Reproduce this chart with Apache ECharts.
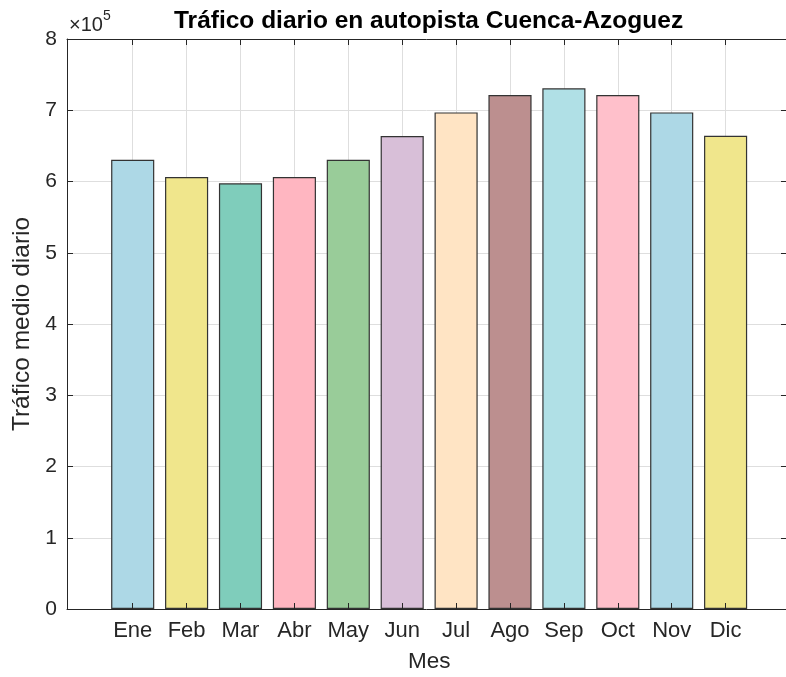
<!DOCTYPE html>
<html>
<head>
<meta charset="utf-8">
<script src="https://cdn.jsdelivr.net/npm/echarts@6/dist/echarts.min.js"></script>
<style>
  html, body { margin: 0; padding: 0; background: #ffffff; }
  #chart { width: 786px; height: 677px; }
</style>
</head>
<body>
<div id="chart"></div>
<script>
// Monthly categories and average daily traffic
const meses = ['Ene', 'Feb', 'Mar', 'Abr', 'May', 'Jun', 'Jul', 'Ago', 'Sep', 'Oct', 'Nov', 'Dic'];
const traficoMedio = [630600, 606300, 597500, 606300, 630600, 663900, 697000, 721400, 730800, 721400, 697000, 664300];
const coloresBarras = ['#ADD8E6', '#F0E68C', '#7FCDBB', '#FFB6C1', '#99CC99', '#D8BFD8',
                       '#FFE4C4', '#BC8F8F', '#B0E0E6', '#FFC0CB', '#ADD8E6', '#F0E68C'];
const yTicks = [0, 1, 2, 3, 4, 5, 6, 7, 8];

const AXIS = '#262626';
const GRIDLINE = '#dedede';
const FONT = 'Liberation Sans, Arial, Helvetica, sans-serif';
const yMax = yTicks[yTicks.length - 1] * 1e5;

const chart = echarts.init(document.getElementById('chart'), null, { renderer: 'canvas' });

const frameLine = { show: true, onZero: false, lineStyle: { color: AXIS, width: 1 } };
const noLine = { show: false, onZero: false };

const option = {
  backgroundColor: '#ffffff',
  animation: false,
  title: [
    {
      text: 'Tráfico diario en autopista Cuenca-Azoguez',
      left: 174,
      top: 9,
      padding: 0,
      textStyle: { fontFamily: FONT, fontWeight: 'bold', fontSize: 24.5, color: '#000' }
    },
    {
      text: '{a|×10}{s|5}',
      left: 69,
      top: 9,
      padding: 0,
      textStyle: {
        fontFamily: FONT, fontWeight: 'normal', fontSize: 20, color: AXIS,
        rich: {
          a: { fontFamily: FONT, fontWeight: 'normal', fontSize: 20, color: AXIS, lineHeight: 26, verticalAlign: 'bottom' },
          s: { fontFamily: FONT, fontWeight: 'normal', fontSize: 14, color: AXIS, lineHeight: 14, verticalAlign: 'top' }
        }
      }
    }
  ],
  grid: [
    // Axes box, reaching the right edge of the canvas
    { left: 67, top: 39, width: 719, height: 570, outerBoundsMode: 'none', containLabel: false },
    // Bar area, one band per month
    { left: 105.75, top: 39, width: 646.8, height: 570, outerBoundsMode: 'none', containLabel: false }
  ],
  xAxis: [
    {
      gridIndex: 0, type: 'value', min: 0, max: 1, position: 'bottom', z: 5,
      axisLine: frameLine, axisTick: { show: false }, axisLabel: { show: false }, splitLine: { show: false }
    },
    {
      gridIndex: 0, type: 'value', min: 0, max: 1, position: 'top', z: 5,
      axisLine: frameLine, axisTick: { show: false }, axisLabel: { show: false }, splitLine: { show: false }
    },
    {
      // month labels and inward ticks, drawn over the bars
      gridIndex: 1, type: 'category', data: meses, position: 'bottom', z: 5,
      axisLine: noLine,
      axisTick: { show: true, inside: true, length: 6, alignWithLabel: true, interval: 0, lineStyle: { color: AXIS } },
      axisLabel: { fontFamily: FONT, fontSize: 22, color: AXIS, margin: 11, interval: 0 },
      splitLine: { show: false },
      name: 'Mes', nameLocation: 'middle', nameGap: 41,
      nameTextStyle: { fontFamily: FONT, fontSize: 22.5, color: AXIS }
    },
    {
      gridIndex: 1, type: 'category', data: meses, position: 'top', z: 5,
      axisLine: noLine,
      axisTick: { show: true, inside: true, length: 6, alignWithLabel: true, interval: 0, lineStyle: { color: AXIS } },
      axisLabel: { show: false },
      splitLine: { show: false }
    },
    {
      // vertical grid lines at each month, behind the bars
      gridIndex: 1, type: 'category', data: meses, position: 'bottom', z: 0,
      axisLine: noLine, axisTick: { show: false }, axisLabel: { show: false },
      splitLine: { show: true, alignWithLabel: true, interval: 0, lineStyle: { color: GRIDLINE, width: 1 } }
    }
  ],
  yAxis: [
    {
      gridIndex: 0, type: 'value', min: 0, max: yMax, interval: 1e5, position: 'left', z: 0,
      axisLine: frameLine,
      axisTick: { show: true, inside: true, length: 6, lineStyle: { color: AXIS } },
      axisLabel: { fontFamily: FONT, fontSize: 21, color: AXIS, margin: 10, formatter: v => String(v / 1e5) },
      splitLine: { show: true, lineStyle: { color: GRIDLINE, width: 1 } },
      name: 'Tráfico medio diario', nameLocation: 'middle', nameGap: 30,
      nameTextStyle: { fontFamily: FONT, fontSize: 24.5, color: AXIS }
    },
    {
      gridIndex: 0, type: 'value', min: 0, max: yMax, interval: 1e5, position: 'right', z: 5,
      axisLine: noLine,
      axisTick: { show: true, inside: true, length: 5, lineStyle: { color: AXIS } },
      axisLabel: { show: false },
      splitLine: { show: false }
    },
    { gridIndex: 1, type: 'value', min: 0, max: yMax, show: false, axisLine: noLine }
  ],
  series: [
    {
      type: 'bar',
      xAxisIndex: 2,
      yAxisIndex: 2,
      barWidth: '80%',
      data: traficoMedio.map((v, i) => ({
        value: v,
        itemStyle: { color: coloresBarras[i], borderColor: '#333333', borderWidth: 1.2 }
      })),
      z: 3
    }
  ]
};

chart.setOption(option);
</script>
</body>
</html>
